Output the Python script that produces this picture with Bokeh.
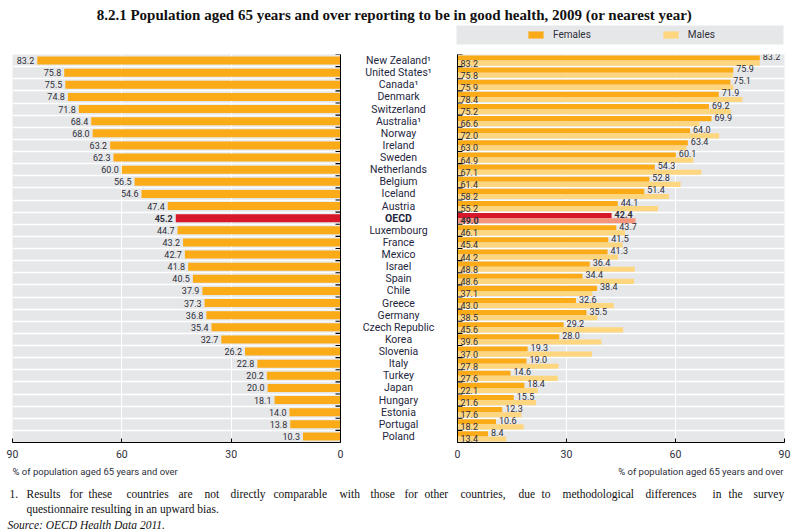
from bokeh.plotting import figure
from bokeh.layouts import column, row
from bokeh.models import (ColumnDataSource, Range1d, FixedTicker, LinearAxis,
                          Label, BoxAnnotation, Legend, LegendItem)
from bokeh.transform import dodge
from bokeh.core.properties import value, field
from bokeh.embed import file_html
from bokeh.resources import INLINE

# ---------------- data ----------------
countries = ["New Zealand\u00b9", "United States\u00b9", "Canada\u00b9", "Denmark", "Switzerland",
             "Australia\u00b9", "Norway", "Ireland", "Sweden", "Netherlands", "Belgium", "Iceland",
             "Austria", "OECD", "Luxembourg", "France", "Mexico", "Israel", "Spain", "Chile",
             "Greece", "Germany", "Czech Republic", "Korea", "Slovenia", "Italy", "Turkey",
             "Japan", "Hungary", "Estonia", "Portugal", "Poland"]
total = [83.2, 75.8, 75.5, 74.8, 71.8, 68.4, 68.0, 63.2, 62.3, 60.0, 56.5, 54.6, 47.4, 45.2,
         44.7, 43.2, 42.7, 41.8, 40.5, 37.9, 37.3, 36.8, 35.4, 32.7, 26.2, 22.8, 20.2, 20.0,
         18.1, 14.0, 13.8, 10.3]
females = [83.2, 75.9, 75.1, 71.9, 69.2, 69.9, 64.0, 63.4, 60.1, 54.3, 52.8, 51.4, 44.1, 42.4,
           43.7, 41.5, 41.3, 36.4, 34.4, 38.4, 32.6, 35.5, 29.2, 28.0, 19.3, 19.0, 14.6, 18.4,
           15.5, 12.3, 10.6, 8.4]
males = [83.2, 75.8, 75.9, 78.4, 75.2, 66.6, 72.0, 63.0, 64.9, 67.1, 61.4, 58.2, 55.2, 49.0,
         46.1, 45.4, 44.2, 48.8, 48.6, 37.1, 43.0, 38.5, 45.6, 39.6, 37.0, 27.8, 27.6, 22.1,
         21.6, 17.6, 18.2, 13.4]
x_ticks = [0, 30, 60, 90]
highlight = "OECD"

title_text = ("8.2.1 Population aged 65 years and over reporting to be in good health, "
              "2009 (or nearest year)")
axis_title = "% of population aged 65 years and over"
note1 = ("1. Results for these countries are not directly comparable with those for other "
         "countries, due to methodological differences in the survey")
note2 = "questionnaire resulting in an upward bias."
source_text = "Source: OECD Health Data 2011."

# ---------------- styles / layout ----------------
SANS = "Roboto"
SERIF = "Liberation Serif"
ORANGE = "#fbab18"
LIGHT = "#fed67f"
RED = "#d7182a"
PINK = "#f4957d"
GRAY = "#e6e7e8"
TXT = "#2e2e3a"
# left edges (px) of the words of the justified first footnote line
note1_word_x = [9, 26, 69, 88, 126, 178, 204, 230, 273, 339, 370, 404, 424, 460,
                518, 541, 562, 645, 712, 728, 753]

n = len(countries)
is_hl = [c == highlight for c in countries]
pos = [n - 0.5 - i for i in range(n)]          # row centres, first country on top
edges = list(range(n + 1))                      # row boundaries
src = ColumnDataSource(dict(
    country=countries,
    pos=pos,
    total=total,
    females=females,
    males=males,
    total_lbl=[f"{v:.1f}" for v in total],
    fem_lbl=[f"{v:.1f}" for v in females],
    male_lbl=[f"{v:.1f}" for v in males],
    c_total=[RED if h else ORANGE for h in is_hl],
    c_fem=[RED if h else ORANGE for h in is_hl],
    c_male=[PINK if h else LIGHT for h in is_hl],
    style=["bold" if h else "normal" for h in is_hl],
))
edge_src = ColumnDataSource(dict(edge=edges, zero=[0] * len(edges)))

ROW_H = 415
TOP_B, BOT_B = 6, 21


def style_panel(p, side):
    ax = p.xaxis[0]
    ax.ticker = FixedTicker(ticks=x_ticks)
    ax.major_tick_in = 4
    ax.major_tick_out = 0
    ax.minor_tick_line_color = None
    ax.axis_line_color = "black"
    ax.major_tick_line_color = "black"
    ax.major_label_text_font = SANS
    ax.major_label_text_font_size = "10.5px"
    ax.major_label_text_color = TXT
    ax.major_label_standoff = 7
    p.xgrid.ticker = FixedTicker(ticks=x_ticks)
    p.xgrid.grid_line_color = "white"
    p.xgrid.grid_line_width = 1
    yax = LinearAxis(ticker=FixedTicker(ticks=[]), major_tick_in=0, major_tick_out=0,
                     minor_tick_line_color=None, major_label_standoff=0,
                     axis_line_color="black")
    p.add_layout(yax, side)
    p.ygrid.ticker = FixedTicker(ticks=edges)
    p.ygrid.grid_line_color = "white"
    p.ygrid.grid_line_width = 1.5
    # short inward tick marks at the row boundaries
    p.scatter(x="zero", y="edge", marker="dash", size=10, line_color="black",
              line_width=1.2, source=edge_src)


# ---------------- left panel ----------------
pl = figure(width=345, height=ROW_H, x_range=Range1d(90, 0), y_range=Range1d(0, n),
            output_backend="svg", toolbar_location=None, y_axis_location=None,
            min_border_left=12, min_border_right=5, min_border_top=TOP_B,
            min_border_bottom=BOT_B, background_fill_color=GRAY, outline_line_color=None)
pl.hbar(y="pos", left=0, right="total", height=0.66, fill_color="c_total",
        line_color=None, source=src)
style_panel(pl, "right")
pl.text(x="total", y="pos", text="total_lbl", source=src, text_align="right",
        text_baseline="middle", x_offset=-3, text_font=value(SANS),
        text_font_size="9px", text_color=TXT, text_font_style=field("style"))

# ---------------- middle labels ----------------
pm = figure(width=106, height=ROW_H, x_range=Range1d(0, 1), y_range=Range1d(0, n),
            output_backend="svg", toolbar_location=None, x_axis_location=None,
            y_axis_location=None, min_border_left=0, min_border_right=0,
            min_border_top=TOP_B, min_border_bottom=BOT_B, outline_line_color=None)
pm.grid.visible = False
pm.text(x=0.5, y="pos", text="country", source=src, text_align="center",
        text_baseline="middle", text_font=value(SANS), text_font_size="10.5px",
        text_color="#1f2740", text_font_style=field("style"))

# ---------------- right panel ----------------
pr = figure(width=340, height=ROW_H, x_range=Range1d(0, 90), y_range=Range1d(0, n),
            output_backend="svg", toolbar_location=None, y_axis_location=None,
            min_border_left=6, min_border_right=7, min_border_top=TOP_B,
            min_border_bottom=BOT_B, background_fill_color=GRAY, outline_line_color=None)
yf = dodge("pos", 0.21)
ym = dodge("pos", -0.21)
pr.hbar(y=yf, left=0, right="females", height=0.42, fill_color="c_fem", line_color=None,
        source=src)
pr.hbar(y=ym, left=0, right="males", height=0.42, fill_color="c_male", line_color=None,
        source=src)
style_panel(pr, "left")
pr.text(x="females", y=yf, text="fem_lbl", source=src, text_align="left",
        text_baseline="middle", x_offset=3, y_offset=-1.5, text_font=value(SANS),
        text_font_size="9px", text_color=TXT, text_font_style=field("style"))
pr.text(x=0, y=ym, text="male_lbl", source=src, text_align="left",
        text_baseline="middle", x_offset=3, y_offset=0, text_font=value(SANS),
        text_font_size="9px", text_color=TXT, text_font_style=field("style"))

# ---------------- top: title + legend ----------------
pt = figure(width=791, height=48, x_range=Range1d(0, 791), y_range=Range1d(0, 48),
            output_backend="svg", toolbar_location=None, x_axis_location=None,
            y_axis_location=None, min_border=0, outline_line_color=None)
pt.grid.visible = False
pt.add_layout(Label(x=394, y=34, text=title_text, text_align="center",
                    text_baseline="middle", text_font=SERIF, text_font_style="bold",
                    text_font_size="15px", text_color="#111111"))
pt.add_layout(BoxAnnotation(left=456, right=783, bottom=4, top=23, fill_color=GRAY,
                            fill_alpha=1, line_color=None, level="underlay"))
rf = pt.hbar(y="pos", left=0, right="females", height=0.42, fill_color=ORANGE,
             line_color=None, source=src, visible=False)
rm = pt.hbar(y="pos", left=0, right="males", height=0.42, fill_color=LIGHT,
             line_color=None, source=src, visible=False)
legend = Legend(items=[LegendItem(label="Females", renderers=[rf]),
                       LegendItem(label="Males", renderers=[rm])],
                location=(526, 8), orientation="horizontal", glyph_width=19,
                glyph_height=9, label_standoff=8, spacing=70, padding=0, margin=0,
                label_height=12, background_fill_alpha=0, border_line_color=None,
                label_text_font=SANS, label_text_font_size="10px",
                label_text_color=TXT, click_policy="none")
pt.add_layout(legend)

# ---------------- footer ----------------
pf = figure(width=791, height=67, x_range=Range1d(0, 791), y_range=Range1d(0, 67),
            output_backend="svg", toolbar_location=None, x_axis_location=None,
            y_axis_location=None, min_border=0, outline_line_color=None)
pf.grid.visible = False
pf.add_layout(Label(x=12, y=59, text=axis_title, text_align="left", text_baseline="middle",
                    text_font=SANS, text_font_size="9.5px", text_color=TXT))
pf.add_layout(Label(x=783, y=59, text=axis_title, text_align="right", text_baseline="middle",
                    text_font=SANS, text_font_size="9.5px", text_color=TXT))
FN = dict(text_baseline="middle", text_font=SERIF, text_font_size="11.5px",
          text_color="#111111", text_align="left")
for word, wx in zip(note1.split(" "), note1_word_x):      # justified first line
    pf.add_layout(Label(x=wx, y=37, text=word, **FN))
pf.add_layout(Label(x=26, y=22, text=note2, **FN))
pf.add_layout(Label(x=7, y=6, text=source_text, text_align="left", text_baseline="middle",
                    text_font=SERIF, text_font_style="italic", text_font_size="11.5px",
                    text_color="#111111"))

layout = column(pt, row(pl, pm, pr), pf)
open("out.html", "w").write(file_html(layout, INLINE))
